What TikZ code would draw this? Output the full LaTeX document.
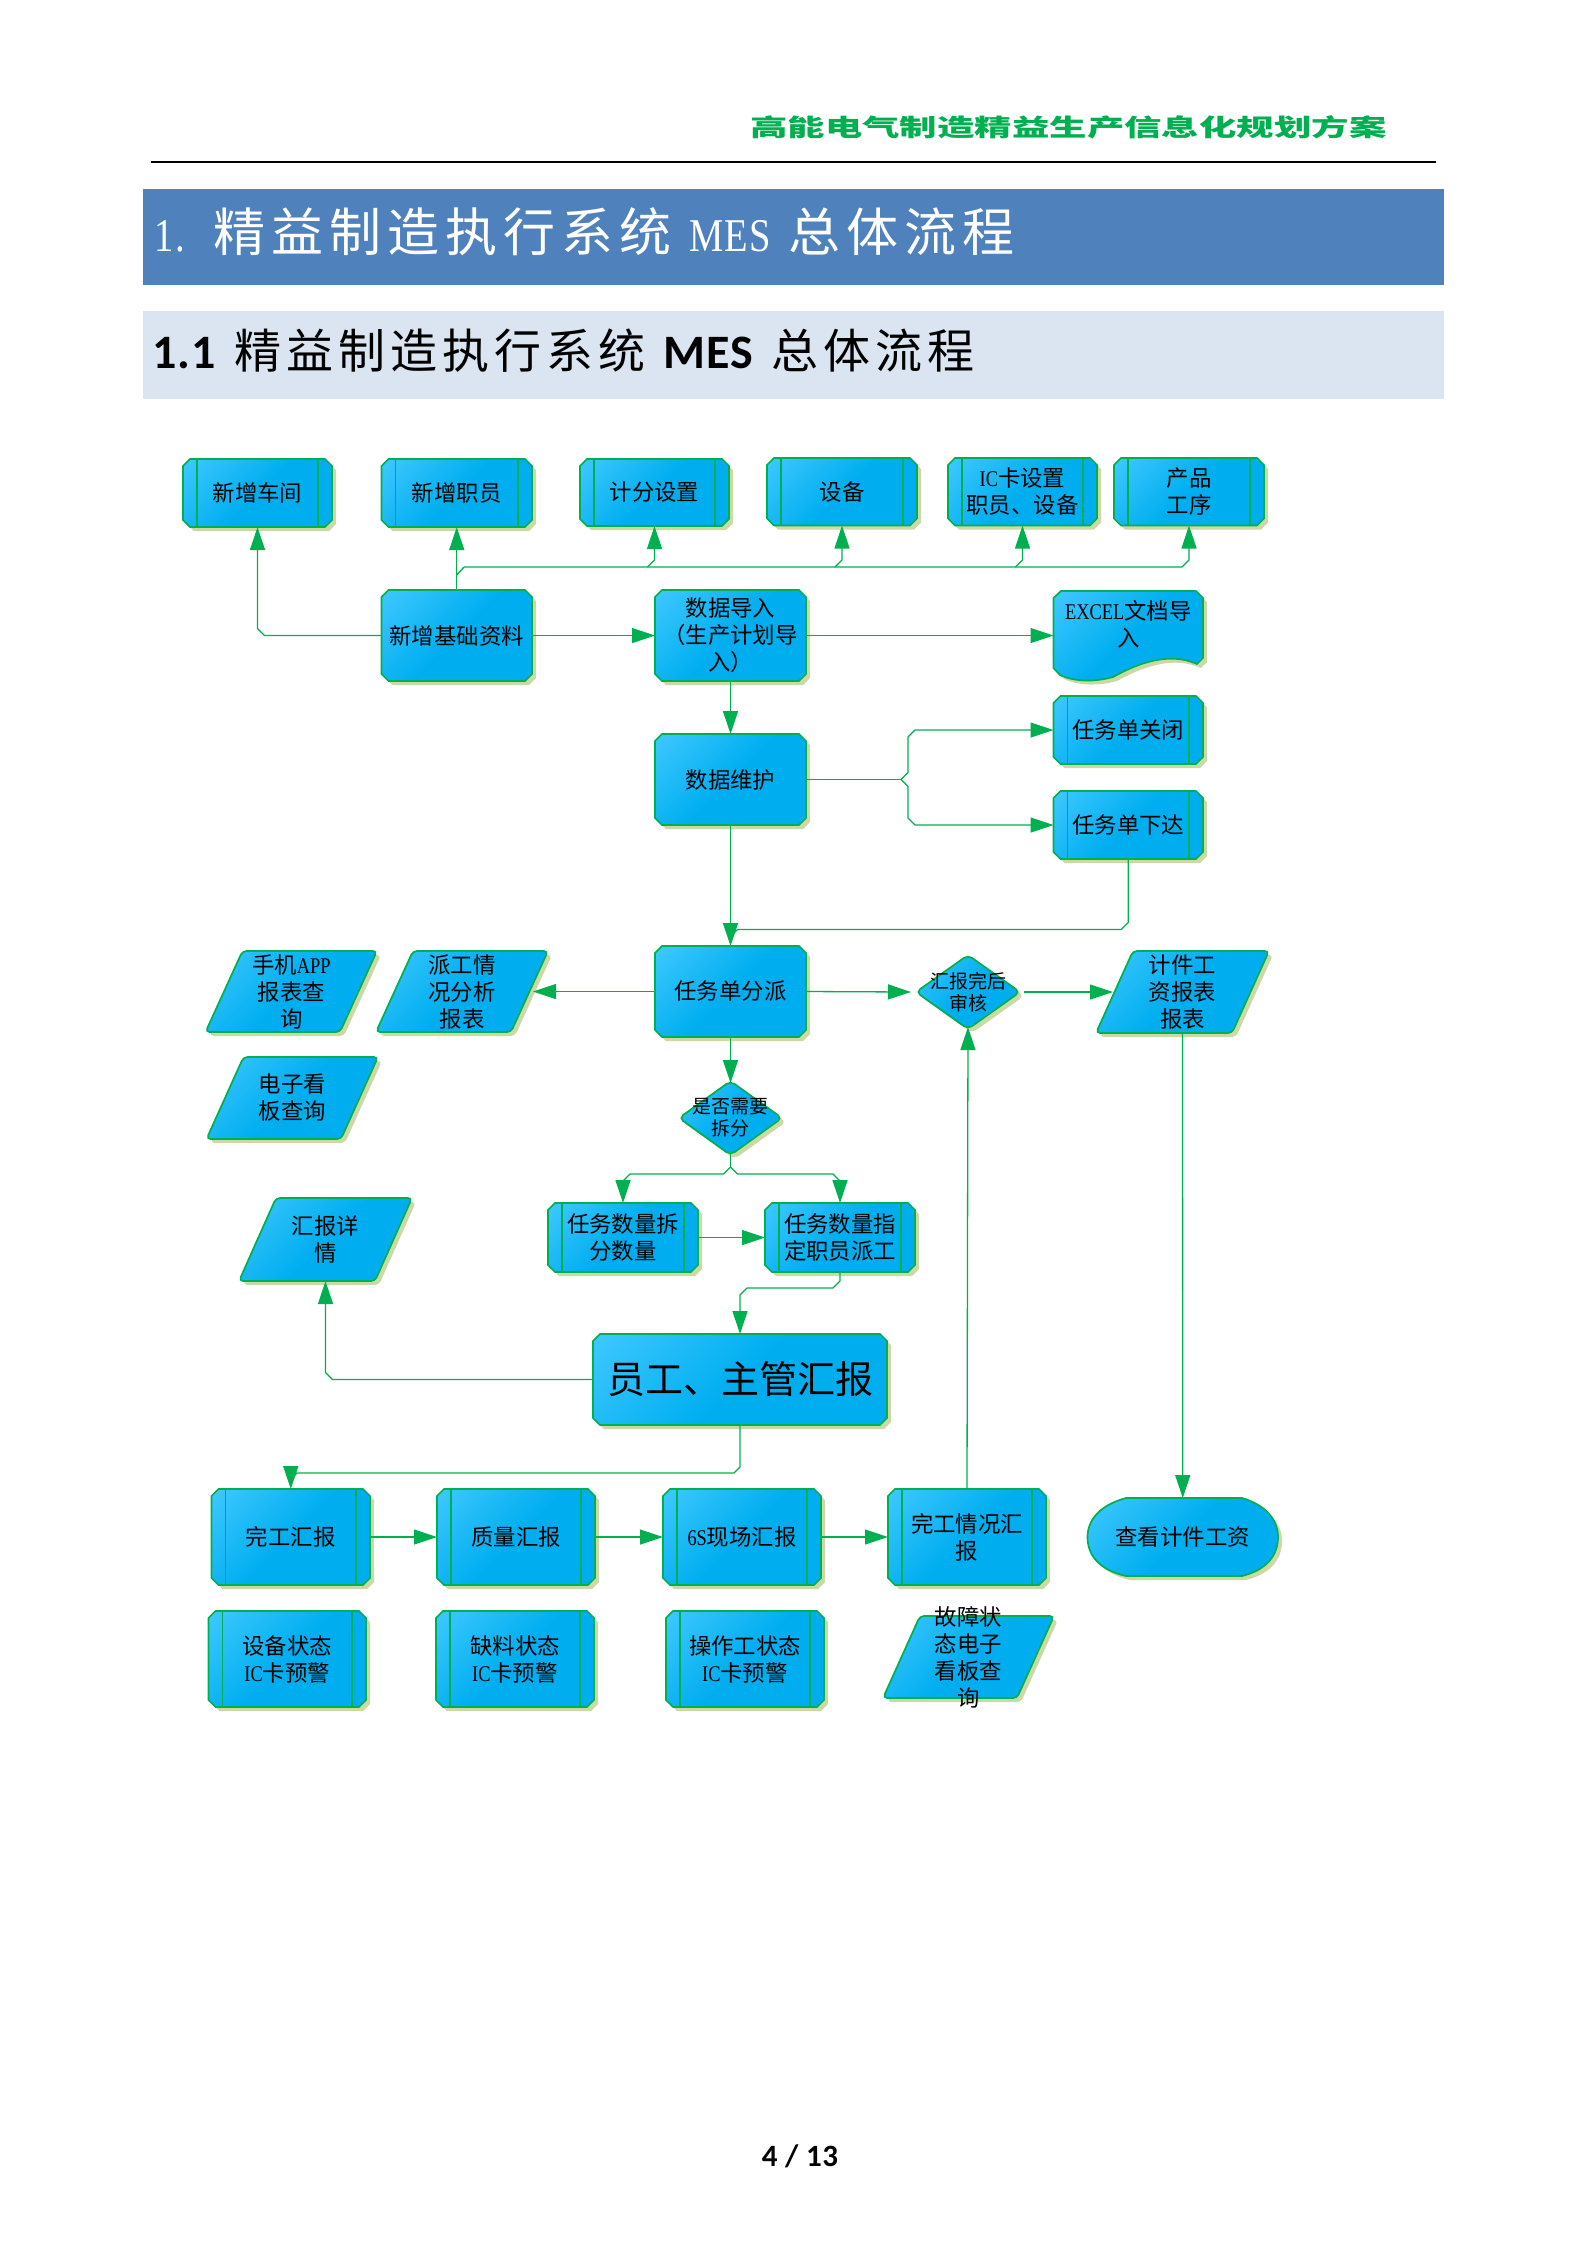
\documentclass[tikz,border=0pt]{standalone}
\usepackage{fontspec}
\usetikzlibrary{arrows.meta,calc}
\setmainfont{Liberation Serif}
\newfontfamily\cjk{Noto Sans CJK SC}
\newfontfamily\latf[FakeStretch=0.82]{Liberation Serif}
\newfontfamily\cjkT[LetterSpace=11.5]{Noto Sans CJK SC}
\newfontfamily\latT[FakeStretch=0.82,LetterSpace=3]{Liberation Serif}
\newfontfamily\cjkS[LetterSpace=10.5]{Noto Sans CJK SC}
\newfontfamily\cjkH[FakeStretch=1.56]{Noto Sans CJK SC}
\newfontfamily\carl[LetterSpace=2]{Carlito}
\newcommand\lt[1]{{\latf #1}}
\definecolor{lineg}{HTML}{00B050}
\definecolor{shd}{HTML}{CDD9A5}
\definecolor{bb}{HTML}{00AEEF}
\definecolor{ll}{HTML}{3FC8FF}
\definecolor{banner}{HTML}{4F81BD}
\definecolor{lightb}{HTML}{DBE5F1}
\pgfdeclareverticalshading{vb}{100bp}{color(0bp)=(bb);color(50bp)=(bb);color(85bp)=(ll);color(100bp)=(ll)}
\tikzset{
  shadowst/.style={fill=shd,draw=none},
  bodyst/.style={draw=lineg,line width=0.85pt,shade,shading=vb,shading angle=45},
  divst/.style={draw=lineg,line width=0.75pt},
  tx/.style={inner sep=0pt,outer sep=0pt,align=center,font=\cjk\fontsize{11.2}{13.5}\selectfont,text=black},
  txsmall/.style={tx,font=\cjk\fontsize{9.5}{11}\selectfont},
  txbig/.style={tx,font=\cjk\fontsize{19}{23}\selectfont},
  conn/.style={draw=lineg,line width=0.65pt,-{Triangle[length=11.5pt,width=7.5pt]}},
  plain/.style={draw=lineg,line width=0.65pt},
}
% shadow + gradient body for one literal path
\newcommand\figbody[1]{\path[shadowst,shift={(4,4)}] #1; \path[bodyst] #1;}
% name, x1, y1, x2, y2, text, node style
\newcommand\boxbody[4]{\figbody{(#1+7,#2)--(#3-7,#2)--(#3,#2+7)--(#3,#4-7)--(#3-7,#4)--(#1+7,#4)--(#1,#4-7)--(#1,#2+7)--cycle}}
\newcommand\textnode[7][tx]{\node[#1,minimum width={((#4)-(#2))*0.5pt},minimum height={((#5)-(#3))*0.5pt}] (#6) at ({((#2)+(#4))/2},{((#3)+(#5))/2}) {#7};}
\newcommand\flowbox[7][tx]{\boxbody{#3}{#4}{#5}{#6}\textnode[#1]{#3}{#4}{#5}{#6}{#2}{#7}}
\newcommand\subbox[7][tx]{\boxbody{#3}{#4}{#5}{#6}
  \draw[divst] (#3+14,#4)--(#3+14,#6) (#5-14,#4)--(#5-14,#6);
  \textnode[#1]{#3}{#4}{#5}{#6}{#2}{#7}}
\newcommand\pgram[6]{\figbody{[rounded corners=2pt] (#2+36,#3)--(#4+1,#3)--(#4-36,#5)--(#2-1,#5)--cycle}
  \textnode[tx]{#2+18}{#3}{#4-18}{#5}{#1}{#6}}
\newcommand\dia[6]{\figbody{[rounded corners=2.5pt] ({(#2+#4)/2},#3-2)--(#4+2,{(#3+#5)/2})--({(#2+#4)/2},#5+2)--(#2-2,{(#3+#5)/2})--cycle}
  \textnode[txsmall]{#2}{#3}{#4}{#5}{#1}{#6}}
\begin{document}
\begin{tikzpicture}[x=0.5pt,y=-0.5pt]
\useasboundingbox (0,0) rectangle (1587,2245);
\fill[white] (0,0) rectangle (1587,2245);
% page header
\node[anchor=east,inner sep=0pt,text=lineg,font=\cjkH\bfseries\fontsize{12}{14}\selectfont] (hdr) at (1387,127) {高能电气制造精益生产信息化规划方案};
\coordinate (ruleL) at (151,162); \coordinate (ruleR) at (1436,162);
\draw[black,line width=1pt] (ruleL) -- (ruleR);
\fill[banner] (143,189) rectangle (1444,285);
\fill[lightb] (143,311) rectangle (1444,399);
\node[anchor=west,inner sep=0pt,text=white] (title) at (154,232) {\latT\fontsize{23.5}{28}\selectfont 1.\hspace{7pt} {\cjkT\fontsize{26}{30}\selectfont 精益制造执行系统}\hspace{3.5pt} MES\hspace{3pt} {\cjkT\fontsize{26}{30}\selectfont 总体流程}};
\node[anchor=west,inner sep=0pt,text=black] (subtitle) at (152,351) {\carl\bfseries\fontsize{24}{28}\selectfont 1.1\hspace{3.5pt} {\cjkS\mdseries\fontsize{23.5}{28}\selectfont 精益制造执行系统}\hspace{3.5pt} MES\hspace{3pt} {\cjkS\mdseries\fontsize{23.5}{28}\selectfont 总体流程}};
\node[inner sep=0pt,font=\carl\bfseries\fontsize{15.5}{18}\selectfont] (pageno) at (800,2156) {4 / 13};

% top row
\subbox{cj}{183}{459}{332}{527}{新增车间}
\subbox{zy}{381.5}{459}{532}{527}{新增职员}
\subbox{jf}{580}{459}{729}{526}{计分设置}
\subbox{sb}{767}{458}{917}{525.5}{设备}
\subbox{ic}{948}{458}{1097}{525.5}{\lt{IC}卡设置\\职员、设备}
\subbox{cp}{1114}{458}{1264}{525.5}{产品\\工序}
% second row
\flowbox{base}{381.5}{590}{532}{681}{新增基础资料}
\flowbox{imp}{655}{590}{806}{681}{数据导入\\（生产计划导\\入）}
\figbody{(1061,591)--(1196,591)--(1203,598)--(1203,658)--(1197,664) .. controls (1170,652) and (1140,662) .. (1113,677) .. controls (1095,682) and (1075,682) .. (1060,675) -- (1053.5,668) -- (1053.5,598) -- cycle}
\textnode{1053.5}{591}{1203}{658}{doc}{\lt{EXCEL}文档导\\入}
\flowbox{wh}{655}{734}{806}{825}{数据维护}
\subbox{gb}{1053.5}{696}{1203}{764}{任务单关闭}
\subbox{xd}{1053.5}{791}{1203}{859}{任务单下达}
% middle
\flowbox{fp}{655}{946}{806}{1037}{任务单分派}
\pgram{app}{206.5}{951}{376}{1032}{手机\lt{APP}\\报表查\\询}
\pgram{pg}{377}{951}{547}{1032}{派工情\\况分析\\报表}
\pgram{dz}{207.5}{1057}{377}{1139}{电子看\\板查询}
\dia{rev}{918}{957}{1018}{1027}{汇报完后\\审核}
\pgram{jj}{1097}{951}{1268}{1033}{计件工\\资报表\\报表}
\dia{cf}{681}{1083}{780}{1153}{是否需要\\拆分}
\subbox{sl}{548}{1203}{698}{1272}{任务数量拆\\分数量}
\subbox{zd}{765}{1203}{915}{1272}{任务数量指\\定职员派工}
\pgram{xq}{240}{1198}{411}{1281}{汇报详\\情}
\flowbox[txbig]{yg}{593}{1334}{887}{1425}{员工、主管汇报}
% bottom rows
\subbox{wg}{211.5}{1489}{370}{1585}{完工汇报}
\subbox{zl}{437}{1489}{595}{1585}{质量汇报}
\subbox{xc}{663}{1489}{821}{1585}{\lt{6S}现场汇报}
\subbox{qk}{888}{1489}{1046}{1585}{完工情况汇\\报}
\figbody{(1126,1498)--(1242,1498) .. controls (1266,1505) and (1278,1520) .. (1278,1537) .. controls (1278,1556) and (1266,1570) .. (1242,1576) -- (1126,1576) .. controls (1100,1570) and (1087.5,1556) .. (1087.5,1537) .. controls (1087.5,1520) and (1100,1505) .. (1126,1498) -- cycle}
\textnode{1087.5}{1498}{1278}{1576}{gz}{查看计件工资}
\subbox{sbz}{208.5}{1611}{366}{1707}{设备状态\\\lt{IC}卡预警}
\subbox{ql}{436}{1611}{594}{1707}{缺料状态\\\lt{IC}卡预警}
\subbox{cz}{666}{1611}{824}{1707}{操作工状态\\\lt{IC}卡预警}
\pgram{gzh}{884}{1616}{1053}{1698}{故障状\\态电子\\看板查\\询}

% connectors
\draw[conn] (base.west) -- ($(cj.south |- base.west)+(7,0)$) -- ($(cj.south |- base.west)+(0,-7)$) -- (cj.south);
\draw[conn] (base.north) -- (zy.south);
\coordinate (rail) at (464,567);
\draw[plain] ($(base.north)+(0,-15)$) -- (rail);
\draw[conn] (rail) -- ($(cp.south |- rail)+(-7,0)$) -- ($(cp.south |- rail)+(0,-7)$) -- (cp.south);
\draw[conn] ($(jf.south |- rail)+(-7,0)$) -- ($(jf.south |- rail)+(0,-7)$) -- (jf.south);
\draw[conn] ($(sb.south |- rail)+(-7,0)$) -- ($(sb.south |- rail)+(0,-7)$) -- (sb.south);
\draw[conn] ($(ic.south |- rail)+(-7,0)$) -- ($(ic.south |- rail)+(0,-7)$) -- (ic.south);
\draw[conn] (base.east) -- (imp.west);
\draw[conn] (imp.east) -- (doc.west |- imp.east);
\draw[conn] (imp.south) -- (wh.north);
\coordinate (fork) at (901,0);
\draw[plain] (wh.east) -- (fork |- wh.east);
\draw[conn] (fork |- wh.east) -- ($(fork |- wh.east)+(7,-7)$) -- ($(fork |- gb.west)+(7,7)$) -- ($(fork |- gb.west)+(14,0)$) -- (gb.west);
\draw[conn] (fork |- wh.east) -- ($(fork |- wh.east)+(7,7)$) -- ($(fork |- xd.west)+(7,-7)$) -- ($(fork |- xd.west)+(14,0)$) -- (xd.west);
\draw[conn] (wh.south) -- (fp.north);
\coordinate (merge) at (0,929.5);
\draw[plain] (xd.south) -- ($(xd.south |- merge)+(0,-7)$) -- ($(xd.south |- merge)+(-7,0)$) -- ($(fp.north |- merge)+(7,0)$) -- ($(fp.north |- merge)+(0,7)$);
\draw[conn] (fp.west) -- ($(pg.east)+(4,0)$);
\draw[conn] (fp.east) -- ($(rev.west)+(-7,0)$);
\draw[conn] ($(rev.east)+(6,0)$) -- ($(jj.west)+(-2,0)$);
\draw[conn] (qk.north) -- (rev.south);
\draw[conn] (fp.south) -- (cf.north);
\coordinate (split) at (0,1174);
\draw[plain] (cf.south) -- ($(cf.south |- split)+(0,-7)$);
\draw[conn] ($(cf.south |- split)+(0,-7)$) -- ($(cf.south |- split)+(-7,0)$) -- ($(sl.north |- split)+(7,0)$) -- ($(sl.north |- split)+(0,7)$) -- (sl.north);
\draw[conn] ($(cf.south |- split)+(0,-7)$) -- ($(cf.south |- split)+(7,0)$) -- ($(zd.north |- split)+(-7,0)$) -- ($(zd.north |- split)+(0,7)$) -- (zd.north);
\draw[conn] (sl.east) -- (zd.west);
\coordinate (drop) at (0,1288);
\draw[conn] (zd.south) -- ($(zd.south |- drop)+(0,-7)$) -- ($(zd.south |- drop)+(-7,0)$) -- ($(yg.north |- drop)+(7,0)$) -- ($(yg.north |- drop)+(0,7)$) -- (yg.north);
\draw[conn] (yg.west) -- ($(xq.south |- yg.west)+(7,0)$) -- ($(xq.south |- yg.west)+(0,-7)$) -- (xq.south);
\coordinate (back) at (0,1473);
\draw[conn] (yg.south) -- ($(yg.south |- back)+(0,-6)$) -- ($(yg.south |- back)+(-6,0)$) -- ($(wg.north |- back)+(6,0)$) -- ($(wg.north |- back)+(0,7)$) -- (wg.north);
\draw[conn] (wg.east) -- (zl.west);
\draw[conn] (zl.east) -- (xc.west);
\draw[conn] (xc.east) -- (qk.west);
\draw[conn] (jj.south) -- (gz.north);
\end{tikzpicture}
\end{document}
